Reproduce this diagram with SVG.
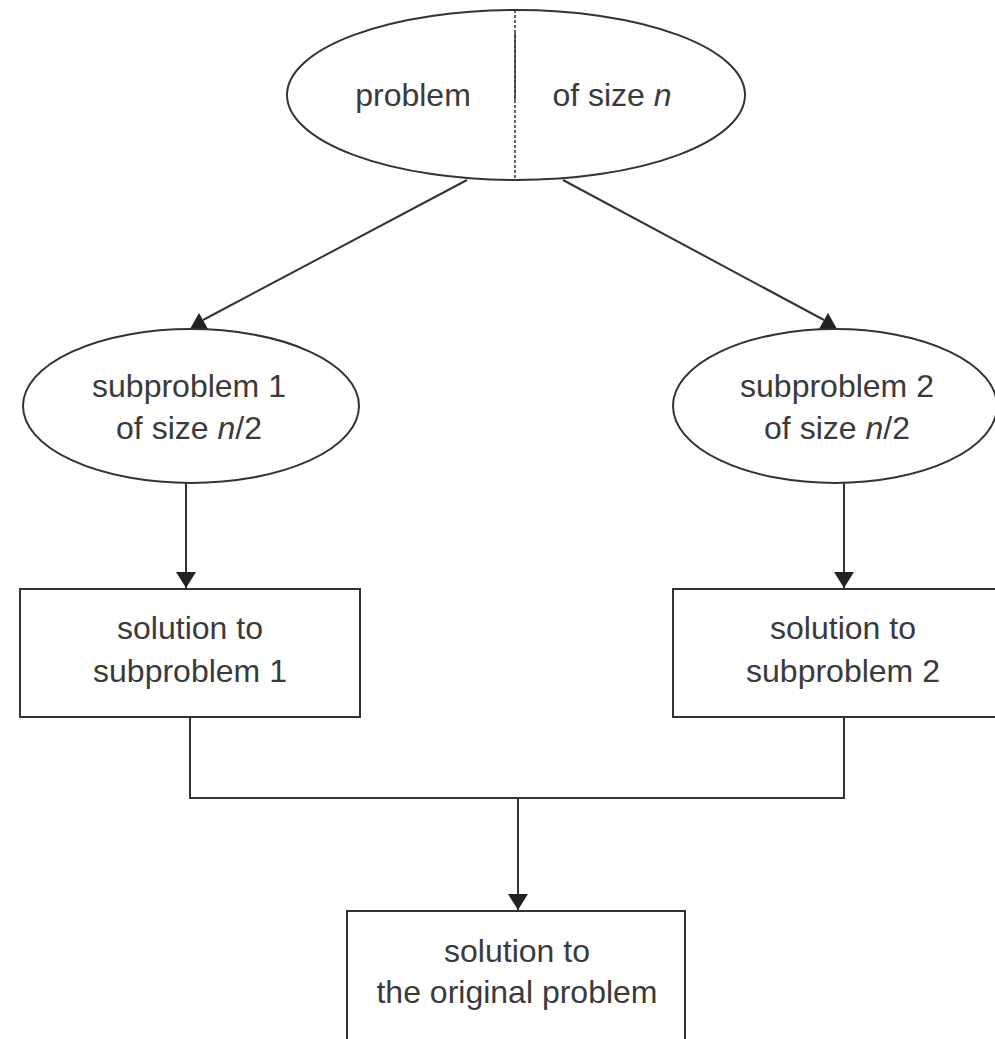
<svg xmlns="http://www.w3.org/2000/svg" width="995" height="1039" viewBox="0 0 995 1039">
<style>
.shape{fill:#fff;stroke:#333;stroke-width:2}
.line{fill:none;stroke:#333;stroke-width:2}
.head{fill:#222}
text{font-family:"Liberation Sans",Arial,sans-serif;font-size:32px;fill:#3a3a3a;text-anchor:middle}
</style>
<defs>
<marker id="arr" viewBox="0 0 10 10" refX="10" refY="5" markerWidth="10" markerHeight="10" markerUnits="userSpaceOnUse" orient="auto">
<path d="M0,0 L10,5 L0,10 z" fill="#222"/>
</marker>
<marker id="arrDown" viewBox="0 0 20 16" refX="10" refY="16" markerWidth="20" markerHeight="16" markerUnits="userSpaceOnUse" orient="0">
<path d="M0,0 L20,0 L10,16 z" fill="#222"/>
</marker>
</defs>
<g id="connectors">
<line class="line" x1="467" y1="180" x2="203" y2="320"/>
<path class="head" d="M199,313 L190,329 L208,329 z"/>
<line class="line" x1="563" y1="180" x2="824" y2="320"/>
<path class="head" d="M828,313 L819,329 L837,329 z"/>
<line class="line" x1="186" y1="483" x2="186" y2="588" marker-end="url(#arrDown)"/>
<line class="line" x1="844" y1="483" x2="844" y2="588" marker-end="url(#arrDown)"/>
<polyline class="line" points="190,717 190,798 844,798 844,717"/>
<line class="line" x1="518" y1="798" x2="518" y2="910" marker-end="url(#arrDown)"/>
</g>
<g id="problem">
<ellipse class="shape" cx="516" cy="95" rx="229" ry="85"/>
<line x1="515" y1="10" x2="515" y2="180" stroke="#333" stroke-width="1.5" stroke-dasharray="3,2"/>
<line x1="515" y1="33" x2="515" y2="100" stroke="#333" stroke-width="1.5"/>
<text x="413" y="106">problem</text>
<text x="612" y="106">of size <tspan font-style="italic">n</tspan></text>
</g>
<g id="sub1">
<ellipse class="shape" cx="191" cy="406" rx="168" ry="77"/>
<text x="189" y="397">subproblem 1</text>
<text x="189" y="439">of size <tspan font-style="italic">n</tspan>/2</text>
</g>
<g id="sub2">
<ellipse class="shape" cx="835" cy="406" rx="162" ry="77"/>
<text x="837" y="397">subproblem 2</text>
<text x="837" y="439">of size <tspan font-style="italic">n</tspan>/2</text>
</g>
<g id="sol1">
<rect class="shape" x="20" y="589" width="340" height="128"/>
<text x="190" y="639">solution to</text>
<text x="190" y="682">subproblem 1</text>
</g>
<g id="sol2">
<rect class="shape" x="673" y="589" width="340" height="128"/>
<text x="843" y="639">solution to</text>
<text x="843" y="682">subproblem 2</text>
</g>
<g id="solution">
<rect class="shape" x="347" y="911" width="338" height="140"/>
<text x="517" y="962">solution to</text>
<text x="517" y="1003">the original problem</text>
</g>
</svg>
